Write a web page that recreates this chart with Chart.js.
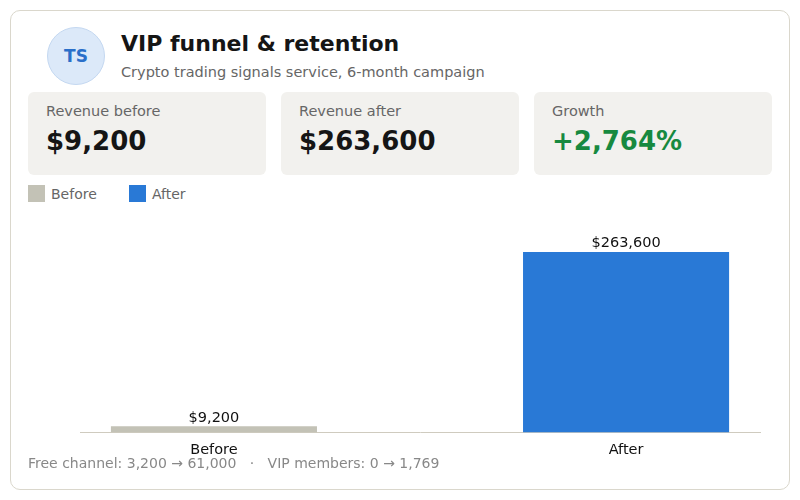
<!DOCTYPE html>
<html>
<head>
<meta charset="utf-8">
<script src="https://cdn.jsdelivr.net/npm/chart.js@4.4.1/dist/chart.umd.min.js"></script>
<style>
    html, body { margin: 0; padding: 0; background: #fff; }
    body { width: 800px; height: 500px; position: relative; font-family: "DejaVu Sans", sans-serif; overflow: hidden; }
    .card { position: absolute; left: 10px; top: 10px; width: 778px; height: 478px; border: 1.5px solid #dad7cc; border-radius: 10px; background: #fff; }
    .avatar { position: absolute; left: 47px; top: 27px; width: 56px; height: 56px; border-radius: 50%; background: #dce9f9; border: 1px solid #c4d8f1; color: #2a6fc9; font-weight: bold; font-size: 17px; line-height: 56px; text-align: center; }
    .title { position: absolute; left: 121px; top: 31px; font-size: 22px; font-weight: bold; color: #151515; }
    .subtitle { position: absolute; left: 121px; top: 64px; font-size: 14.5px; color: #666; }
    .kpi { position: absolute; top: 92px; width: 238px; height: 83px; background: #f2f1ee; border-radius: 6px; }
    .kpi .lbl { position: absolute; left: 18px; top: 11px; font-size: 14.5px; color: #666; }
    .kpi .val { position: absolute; left: 18px; top: 34px; font-size: 26px; font-weight: bold; color: #151515; }
    .kpi .val.green { color: #17893f; }
    .legend { position: absolute; top: 185px; font-size: 14px; color: #666; }
    .legend span.sw { display: inline-block; width: 17px; height: 17px; vertical-align: -3px; margin-right: 6px; }
    .chartbox { position: absolute; left: 20px; top: 212px; width: 760px; height: 248px; }
    .footer { position: absolute; left: 28px; top: 455px; font-size: 14px; color: #888; }
</style>
</head>
<body>
<div class="card"></div>
<div class="avatar">TS</div>
<div class="title">VIP funnel &amp; retention</div>
<div class="subtitle">Crypto trading signals service, 6-month campaign</div>

<div class="kpi" style="left:28px"><div class="lbl">Revenue before</div><div class="val">$9,200</div></div>
<div class="kpi" style="left:281px"><div class="lbl">Revenue after</div><div class="val">$263,600</div></div>
<div class="kpi" style="left:534px"><div class="lbl">Growth</div><div class="val green">+2,764%</div></div>

<div class="legend" style="left:28px"><span class="sw" style="background:#c3c2b6"></span>Before</div>
<div class="legend" style="left:129px"><span class="sw" style="background:#2979d6"></span>After</div>

<div class="chartbox"><canvas id="revChart"></canvas></div>
<div class="footer">Free channel: 3,200 → 61,000 &nbsp; · &nbsp; VIP members: 0 → 1,769</div>

<script>
// chart data
var categories = ['Before', 'After'];
var revenue = [9200, 263600];
var barColors = ['#c3c2b6', '#2979d6'];

function money(v) {
    return '$' + v.toLocaleString('en-US');
}

// value labels above each bar
var valueLabels = {
    id: 'valueLabels',
    afterDatasetsDraw: function (chart) {
        var ctx = chart.ctx;
        var meta = chart.getDatasetMeta(0);
        ctx.save();
        ctx.font = '14.5px "DejaVu Sans"';
        ctx.fillStyle = '#111';
        ctx.textAlign = 'center';
        ctx.textBaseline = 'bottom';
        meta.data.forEach(function (bar, i) {
            ctx.fillText(money(revenue[i]), bar.x, bar.y - 1);
        });
        ctx.restore();
    }
};

var ctx = document.getElementById('revChart').getContext('2d');
var revChart = new Chart(ctx, {
    type: 'bar',
    data: {
        datasets: [{
            data: revenue.map(function (v, i) { return { x: i, y: v }; }),
            backgroundColor: barColors,
            borderWidth: 0,
            barPercentage: 0.5,
            categoryPercentage: 1
        }]
    },
    options: {
        responsive: true,
        maintainAspectRatio: false,
        animation: false,
        layout: { padding: { left: 60, right: 20, top: 15, bottom: 0 } },
        plugins: {
            legend: { display: false },
            tooltip: { enabled: false }
        },
        scales: {
            x: {
                type: 'linear',
                offset: false,
                min: -0.325,
                max: 1.325,
                grid: { display: false, offset: false },
                border: { display: true, color: '#cfcbbf', width: 1 },
                afterBuildTicks: function (axis) {
                    axis.ticks = categories.map(function (c, i) { return { value: i }; });
                },
                ticks: {
                    color: '#111',
                    font: { family: 'DejaVu Sans', size: 14.5 },
                    padding: 1,
                    callback: function (v) { return categories[v]; }
                }
            },
            y: {
                display: false,
                min: 0,
                max: 300000
            }
        }
    },
    plugins: [valueLabels]
});
</script>
</body>
</html>
